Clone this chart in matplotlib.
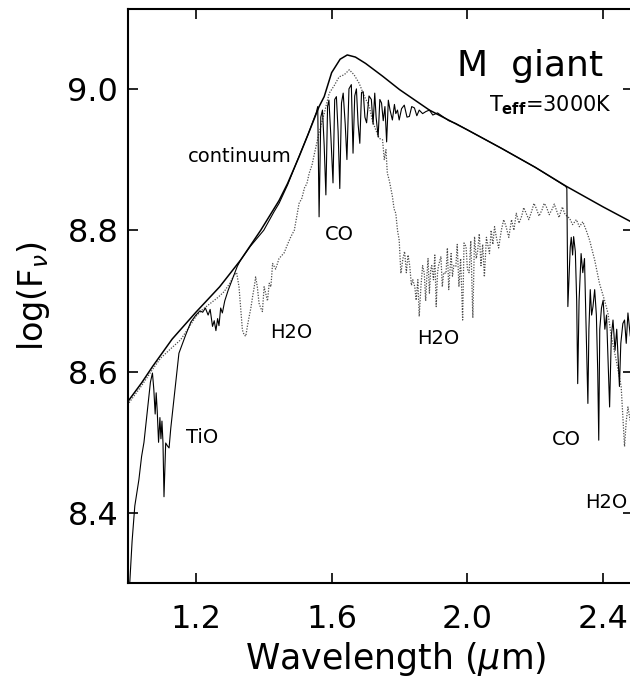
import matplotlib
matplotlib.use("Agg")
import matplotlib.pyplot as plt

# continuum (smooth solid line)
cont_wl = [1.000, 1.040, 1.072, 1.130, 1.200, 1.270, 1.332, 1.391, 1.445, 1.470,
           1.504, 1.530, 1.563, 1.578, 1.600, 1.625, 1.646, 1.670, 1.700, 1.750,
           1.800, 1.888, 2.000, 2.100, 2.200, 2.292, 2.400, 2.490]
cont_flux = [8.558, 8.584, 8.607, 8.646, 8.684, 8.720, 8.758, 8.800, 8.842, 8.866,
             8.904, 8.935, 8.975, 8.989, 9.023, 9.042, 9.048, 9.045, 9.036, 9.018,
             8.999, 8.970, 8.942, 8.916, 8.889, 8.862, 8.833, 8.810]

# model spectrum without water (solid noisy line)
spec_wl = [1.005, 1.012, 1.020, 1.032, 1.040, 1.047, 1.058, 1.066, 1.072, 1.076,
           1.080, 1.083, 1.086, 1.090, 1.094, 1.097, 1.100, 1.103, 1.106, 1.109,
           1.111, 1.116, 1.121, 1.126, 1.135, 1.150, 1.170, 1.185, 1.200, 1.212,
           1.220, 1.228, 1.236, 1.242, 1.249, 1.254, 1.259, 1.264, 1.268, 1.273,
           1.278, 1.285, 1.295, 1.303, 1.322, 1.332, 1.360, 1.400, 1.430, 1.445,
           1.470, 1.500, 1.530, 1.555, 1.559, 1.563, 1.568, 1.573, 1.578, 1.583,
           1.588, 1.592, 1.598, 1.604, 1.609, 1.614, 1.619, 1.624, 1.629, 1.634,
           1.640, 1.645, 1.651, 1.658, 1.663, 1.668, 1.673, 1.678, 1.683, 1.688,
           1.693, 1.698, 1.703, 1.710, 1.717, 1.722, 1.727, 1.731, 1.737, 1.742,
           1.747, 1.752, 1.757, 1.762, 1.767, 1.772, 1.779, 1.785, 1.789, 1.794,
           1.799, 1.806, 1.814, 1.822, 1.829, 1.836, 1.844, 1.851, 1.858, 1.868,
           1.878, 1.888, 1.898, 1.912, 1.927, 1.945, 1.966, 2.000, 2.100, 2.200,
           2.290, 2.293, 2.296, 2.300, 2.303, 2.306, 2.310, 2.313, 2.318, 2.322,
           2.325, 2.329, 2.335, 2.340, 2.345, 2.350, 2.355, 2.358, 2.362, 2.366,
           2.370, 2.375, 2.380, 2.384, 2.387, 2.390, 2.395, 2.400, 2.405, 2.410,
           2.415, 2.419, 2.424, 2.429, 2.435, 2.440, 2.444, 2.448, 2.452, 2.458,
           2.463, 2.468, 2.473, 2.480, 2.490]
spec_flux = [8.300, 8.360, 8.410, 8.447, 8.480, 8.500, 8.550, 8.585, 8.598, 8.575,
             8.540, 8.570, 8.545, 8.500, 8.535, 8.505, 8.530, 8.500, 8.423, 8.470,
             8.499, 8.495, 8.492, 8.520, 8.560, 8.626, 8.652, 8.670, 8.680, 8.686,
             8.684, 8.690, 8.680, 8.688, 8.664, 8.672, 8.658, 8.675, 8.665, 8.690,
             8.683, 8.700, 8.715, 8.725, 8.749, 8.758, 8.777, 8.800, 8.826, 8.838,
             8.864, 8.900, 8.935, 8.967, 8.975, 8.819, 8.960, 8.970, 8.920, 8.850,
             8.975, 8.984, 8.930, 8.867, 8.985, 8.989, 8.940, 8.859, 8.980, 8.994,
             8.950, 8.900, 9.000, 9.006, 8.909, 8.990, 9.000, 8.950, 8.923, 8.995,
             8.996, 8.960, 8.952, 8.990, 8.985, 8.950, 8.994, 8.960, 8.932, 8.985,
             8.980, 8.955, 8.975, 8.925, 8.984, 8.970, 8.956, 8.978, 8.965, 8.970,
             8.956, 8.972, 8.977, 8.960, 8.961, 8.975, 8.973, 8.962, 8.970, 8.965,
             8.968, 8.970, 8.963, 8.966, 8.961, 8.955, 8.951, 8.942, 8.916, 8.889,
             8.862, 8.859, 8.692, 8.740, 8.776, 8.790, 8.765, 8.791, 8.770, 8.700,
             8.583, 8.700, 8.767, 8.740, 8.760, 8.660, 8.555, 8.660, 8.716, 8.680,
             8.692, 8.716, 8.680, 8.600, 8.503, 8.660, 8.690, 8.701, 8.660, 8.680,
             8.607, 8.550, 8.650, 8.673, 8.630, 8.660, 8.620, 8.579, 8.640, 8.668,
             8.673, 8.640, 8.683, 8.650, 8.680]

# model spectrum with water (dotted line)
h2o_wl = [1.003, 1.040, 1.072, 1.096, 1.125, 1.155, 1.180, 1.200, 1.220, 1.244,
          1.265, 1.283, 1.300, 1.313, 1.320, 1.327, 1.332, 1.337, 1.342, 1.347,
          1.352, 1.357, 1.362, 1.367, 1.372, 1.376, 1.381, 1.386, 1.391, 1.396,
          1.401, 1.406, 1.411, 1.416, 1.421, 1.426, 1.435, 1.445, 1.460, 1.470,
          1.480, 1.490, 1.504, 1.512, 1.520, 1.527, 1.534, 1.542, 1.550, 1.563,
          1.578, 1.593, 1.608, 1.622, 1.637, 1.652, 1.666, 1.681, 1.696, 1.711,
          1.720, 1.730, 1.740, 1.750, 1.755, 1.760, 1.764, 1.770, 1.779, 1.784,
          1.789, 1.794, 1.799, 1.804, 1.810, 1.815, 1.820, 1.825, 1.830, 1.835,
          1.839, 1.845, 1.849, 1.854, 1.858, 1.863, 1.868, 1.873, 1.877, 1.880,
          1.884, 1.888, 1.892, 1.895, 1.900, 1.904, 1.908, 1.912, 1.915, 1.922,
          1.926, 1.930, 1.937, 1.941, 1.945, 1.952, 1.956, 1.960, 1.966, 1.970,
          1.975, 1.980, 1.986, 1.990, 1.996, 2.000, 2.005, 2.010, 2.016, 2.021,
          2.026, 2.030, 2.035, 2.040, 2.045, 2.050, 2.056, 2.065, 2.070, 2.075,
          2.080, 2.085, 2.092, 2.100, 2.107, 2.114, 2.122, 2.130, 2.137, 2.144,
          2.152, 2.160, 2.166, 2.173, 2.181, 2.190, 2.196, 2.203, 2.211, 2.220,
          2.226, 2.232, 2.241, 2.250, 2.256, 2.262, 2.270, 2.275, 2.280, 2.286,
          2.293, 2.301, 2.310, 2.321, 2.330, 2.340, 2.350, 2.360, 2.375, 2.389,
          2.404, 2.414, 2.424, 2.438, 2.453, 2.463, 2.468, 2.473, 2.480, 2.490]
h2o_flux = [8.556, 8.580, 8.603, 8.619, 8.632, 8.645, 8.663, 8.678, 8.688, 8.697,
            8.705, 8.713, 8.725, 8.737, 8.740, 8.720, 8.690, 8.659, 8.652, 8.650,
            8.665, 8.678, 8.690, 8.706, 8.720, 8.734, 8.720, 8.697, 8.690, 8.685,
            8.720, 8.710, 8.700, 8.725, 8.720, 8.753, 8.745, 8.760, 8.768, 8.780,
            8.791, 8.800, 8.838, 8.845, 8.860, 8.866, 8.881, 8.892, 8.910, 8.938,
            8.965, 8.994, 9.005, 9.017, 9.020, 9.027, 9.020, 9.008, 8.990, 8.975,
            8.955, 8.942, 8.930, 8.928, 8.900, 8.914, 8.881, 8.870, 8.848, 8.830,
            8.824, 8.800, 8.786, 8.739, 8.760, 8.770, 8.740, 8.765, 8.750, 8.722,
            8.730, 8.720, 8.701, 8.730, 8.678, 8.720, 8.750, 8.739, 8.700, 8.730,
            8.760, 8.711, 8.745, 8.750, 8.730, 8.765, 8.692, 8.740, 8.750, 8.763,
            8.720, 8.740, 8.739, 8.775, 8.716, 8.767, 8.735, 8.750, 8.749, 8.780,
            8.720, 8.760, 8.673, 8.782, 8.777, 8.745, 8.740, 8.785, 8.676, 8.791,
            8.760, 8.770, 8.795, 8.750, 8.780, 8.734, 8.790, 8.767, 8.800, 8.780,
            8.805, 8.791, 8.775, 8.800, 8.815, 8.805, 8.790, 8.815, 8.800, 8.824,
            8.810, 8.820, 8.832, 8.824, 8.815, 8.828, 8.838, 8.831, 8.820, 8.829,
            8.838, 8.834, 8.822, 8.830, 8.837, 8.829, 8.818, 8.826, 8.833, 8.824,
            8.820, 8.817, 8.808, 8.815, 8.805, 8.812, 8.800, 8.786, 8.758, 8.725,
            8.701, 8.683, 8.650, 8.617, 8.579, 8.494, 8.530, 8.550, 8.530, 8.560]

xticks = [1.2, 1.6, 2.0, 2.4]
yticks = [8.4, 8.6, 8.8, 9.0]

# feature labels: text, wavelength, flux (baseline)
feat_text = ["continuum", "CO", "H2O", "H2O", "TiO", "CO", "H2O"]
feat_x = [1.330, 1.622, 1.482, 1.915, 1.219, 2.293, 2.410]
feat_y = [8.897, 8.786, 8.647, 8.639, 8.499, 8.496, 8.407]

plt.rcParams['font.family'] = ['DejaVu Sans']

fig = plt.figure(figsize=(6.30, 6.82), dpi=100)
ax = fig.add_axes([0.2032, 0.1452, 0.8016, 0.8416])

ax.plot(cont_wl, cont_flux, color='black', lw=1.1)
ax.plot(h2o_wl, h2o_flux, color='0.3', lw=0.9, ls=(0, (1, 1.2)))
ax.plot(spec_wl, spec_flux, color='black', lw=0.8)

ax.set_xlim(1.0, 2.488)
ax.set_ylim(8.301, 9.113)
ax.set_xticks(xticks)
ax.set_yticks(yticks)
ax.set_xticklabels([f"{t:.1f}" for t in xticks])
ax.set_yticklabels([f"{t:.1f}" for t in yticks])
ax.tick_params(direction='in', length=7, width=1.2, top=True, right=True,
               labelsize=23)
ax.tick_params(axis='x', pad=15)
ax.tick_params(axis='y', pad=7)
for s in ax.spines.values():
    s.set_linewidth(1.5)

ax.set_xlabel(r"Wavelength ($\mu$m)", fontsize=25)
ax.xaxis.set_label_coords(0.53, -0.1)
ax.set_ylabel(r"log(F$_{\nu}$)", fontsize=24)
ax.yaxis.set_label_coords(-0.15, 0.5)

for t, x, y in zip(feat_text, feat_x, feat_y):
    ax.text(x, y, t, fontsize=14, ha='center', va='baseline')

ax.text(2.186, 9.018, "M  giant", fontsize=26, ha='center', va='baseline')
ax.text(2.246, 8.968, r"T$_{\mathbf{eff}}$=3000K", fontsize=15,
        ha='center', va='baseline')

fig.savefig("out.png", dpi=100)
